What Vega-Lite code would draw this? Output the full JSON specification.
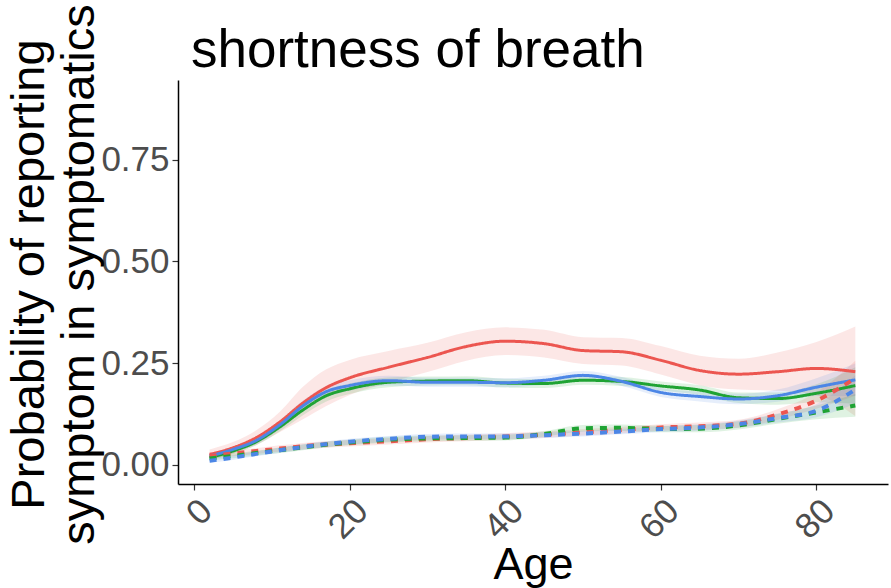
{
  "$schema": "https://vega.github.io/schema/vega-lite/v6.json",
  "autosize": {"type": "none"},
  "width": 710,
  "height": 404,
  "padding": {"left": 178, "top": 80, "right": 3, "bottom": 104},
  "background": "white",
  "config": {
    "view": {"stroke": null},
    "font": "Liberation Sans"
  },
  "title": {
    "text": "shortness of breath",
    "anchor": "start",
    "frame": "group",
    "fontSize": 53,
    "font": "Liberation Sans",
    "fontWeight": "normal",
    "color": "black",
    "baseline": "alphabetic",
    "offset": 0,
    "dy": 116,
    "dx": 13
  },
  "data": {
    "values": [
      {"age": 2, "group": "a", "type": "solid", "y": 0.026, "lo": 0.014, "hi": 0.038},
      {"age": 5, "group": "a", "type": "solid", "y": 0.042, "lo": 0.028, "hi": 0.056},
      {"age": 8, "group": "a", "type": "solid", "y": 0.067, "lo": 0.049, "hi": 0.085},
      {"age": 11, "group": "a", "type": "solid", "y": 0.105, "lo": 0.080, "hi": 0.130},
      {"age": 14, "group": "a", "type": "solid", "y": 0.152, "lo": 0.112, "hi": 0.192},
      {"age": 17, "group": "a", "type": "solid", "y": 0.190, "lo": 0.145, "hi": 0.235},
      {"age": 20, "group": "a", "type": "solid", "y": 0.214, "lo": 0.172, "hi": 0.258},
      {"age": 25, "group": "a", "type": "solid", "y": 0.240, "lo": 0.202, "hi": 0.280},
      {"age": 30, "group": "a", "type": "solid", "y": 0.264, "lo": 0.228, "hi": 0.300},
      {"age": 35, "group": "a", "type": "solid", "y": 0.291, "lo": 0.256, "hi": 0.326},
      {"age": 40, "group": "a", "type": "solid", "y": 0.304, "lo": 0.270, "hi": 0.338},
      {"age": 45, "group": "a", "type": "solid", "y": 0.298, "lo": 0.264, "hi": 0.332},
      {"age": 50, "group": "a", "type": "solid", "y": 0.281, "lo": 0.248, "hi": 0.314},
      {"age": 55, "group": "a", "type": "solid", "y": 0.278, "lo": 0.244, "hi": 0.312},
      {"age": 60, "group": "a", "type": "solid", "y": 0.257, "lo": 0.222, "hi": 0.292},
      {"age": 65, "group": "a", "type": "solid", "y": 0.232, "lo": 0.196, "hi": 0.268},
      {"age": 70, "group": "a", "type": "solid", "y": 0.223, "lo": 0.185, "hi": 0.261},
      {"age": 75, "group": "a", "type": "solid", "y": 0.229, "lo": 0.182, "hi": 0.276},
      {"age": 80, "group": "a", "type": "solid", "y": 0.237, "lo": 0.172, "hi": 0.302},
      {"age": 85, "group": "a", "type": "solid", "y": 0.229, "lo": 0.120, "hi": 0.340},

      {"age": 2, "group": "b", "type": "solid", "y": 0.018, "lo": 0.012, "hi": 0.024},
      {"age": 5, "group": "b", "type": "solid", "y": 0.034, "lo": 0.027, "hi": 0.041},
      {"age": 8, "group": "b", "type": "solid", "y": 0.057, "lo": 0.048, "hi": 0.066},
      {"age": 11, "group": "b", "type": "solid", "y": 0.093, "lo": 0.082, "hi": 0.104},
      {"age": 14, "group": "b", "type": "solid", "y": 0.135, "lo": 0.122, "hi": 0.148},
      {"age": 17, "group": "b", "type": "solid", "y": 0.170, "lo": 0.156, "hi": 0.184},
      {"age": 20, "group": "b", "type": "solid", "y": 0.187, "lo": 0.174, "hi": 0.200},
      {"age": 25, "group": "b", "type": "solid", "y": 0.203, "lo": 0.191, "hi": 0.215},
      {"age": 30, "group": "b", "type": "solid", "y": 0.206, "lo": 0.195, "hi": 0.217},
      {"age": 35, "group": "b", "type": "solid", "y": 0.207, "lo": 0.196, "hi": 0.218},
      {"age": 40, "group": "b", "type": "solid", "y": 0.201, "lo": 0.190, "hi": 0.212},
      {"age": 45, "group": "b", "type": "solid", "y": 0.200, "lo": 0.189, "hi": 0.211},
      {"age": 50, "group": "b", "type": "solid", "y": 0.208, "lo": 0.197, "hi": 0.219},
      {"age": 55, "group": "b", "type": "solid", "y": 0.205, "lo": 0.194, "hi": 0.216},
      {"age": 60, "group": "b", "type": "solid", "y": 0.194, "lo": 0.183, "hi": 0.205},
      {"age": 65, "group": "b", "type": "solid", "y": 0.184, "lo": 0.172, "hi": 0.196},
      {"age": 70, "group": "b", "type": "solid", "y": 0.165, "lo": 0.152, "hi": 0.178},
      {"age": 75, "group": "b", "type": "solid", "y": 0.163, "lo": 0.148, "hi": 0.178},
      {"age": 80, "group": "b", "type": "solid", "y": 0.176, "lo": 0.154, "hi": 0.198},
      {"age": 85, "group": "b", "type": "solid", "y": 0.195, "lo": 0.150, "hi": 0.240},

      {"age": 2, "group": "c", "type": "solid", "y": 0.022, "lo": 0.016, "hi": 0.028},
      {"age": 5, "group": "c", "type": "solid", "y": 0.038, "lo": 0.031, "hi": 0.045},
      {"age": 8, "group": "c", "type": "solid", "y": 0.060, "lo": 0.051, "hi": 0.069},
      {"age": 11, "group": "c", "type": "solid", "y": 0.098, "lo": 0.087, "hi": 0.109},
      {"age": 14, "group": "c", "type": "solid", "y": 0.145, "lo": 0.132, "hi": 0.158},
      {"age": 17, "group": "c", "type": "solid", "y": 0.180, "lo": 0.166, "hi": 0.194},
      {"age": 20, "group": "c", "type": "solid", "y": 0.195, "lo": 0.182, "hi": 0.208},
      {"age": 25, "group": "c", "type": "solid", "y": 0.207, "lo": 0.195, "hi": 0.219},
      {"age": 30, "group": "c", "type": "solid", "y": 0.203, "lo": 0.192, "hi": 0.214},
      {"age": 35, "group": "c", "type": "solid", "y": 0.203, "lo": 0.192, "hi": 0.214},
      {"age": 40, "group": "c", "type": "solid", "y": 0.202, "lo": 0.191, "hi": 0.213},
      {"age": 45, "group": "c", "type": "solid", "y": 0.208, "lo": 0.197, "hi": 0.219},
      {"age": 50, "group": "c", "type": "solid", "y": 0.220, "lo": 0.209, "hi": 0.231},
      {"age": 55, "group": "c", "type": "solid", "y": 0.205, "lo": 0.194, "hi": 0.216},
      {"age": 60, "group": "c", "type": "solid", "y": 0.178, "lo": 0.167, "hi": 0.189},
      {"age": 65, "group": "c", "type": "solid", "y": 0.168, "lo": 0.156, "hi": 0.180},
      {"age": 70, "group": "c", "type": "solid", "y": 0.162, "lo": 0.149, "hi": 0.175},
      {"age": 75, "group": "c", "type": "solid", "y": 0.170, "lo": 0.155, "hi": 0.185},
      {"age": 80, "group": "c", "type": "solid", "y": 0.191, "lo": 0.169, "hi": 0.213},
      {"age": 85, "group": "c", "type": "solid", "y": 0.209, "lo": 0.169, "hi": 0.249},

      {"age": 2, "group": "a", "type": "dashed", "y": 0.022, "lo": 0.016, "hi": 0.028},
      {"age": 5, "group": "a", "type": "dashed", "y": 0.028, "lo": 0.021, "hi": 0.035},
      {"age": 8, "group": "a", "type": "dashed", "y": 0.034, "lo": 0.027, "hi": 0.041},
      {"age": 11, "group": "a", "type": "dashed", "y": 0.040, "lo": 0.032, "hi": 0.048},
      {"age": 14, "group": "a", "type": "dashed", "y": 0.046, "lo": 0.038, "hi": 0.054},
      {"age": 17, "group": "a", "type": "dashed", "y": 0.050, "lo": 0.042, "hi": 0.058},
      {"age": 20, "group": "a", "type": "dashed", "y": 0.053, "lo": 0.045, "hi": 0.061},
      {"age": 25, "group": "a", "type": "dashed", "y": 0.058, "lo": 0.050, "hi": 0.066},
      {"age": 30, "group": "a", "type": "dashed", "y": 0.063, "lo": 0.055, "hi": 0.071},
      {"age": 35, "group": "a", "type": "dashed", "y": 0.066, "lo": 0.058, "hi": 0.074},
      {"age": 40, "group": "a", "type": "dashed", "y": 0.070, "lo": 0.062, "hi": 0.078},
      {"age": 45, "group": "a", "type": "dashed", "y": 0.074, "lo": 0.066, "hi": 0.082},
      {"age": 50, "group": "a", "type": "dashed", "y": 0.080, "lo": 0.072, "hi": 0.088},
      {"age": 55, "group": "a", "type": "dashed", "y": 0.086, "lo": 0.078, "hi": 0.094},
      {"age": 60, "group": "a", "type": "dashed", "y": 0.092, "lo": 0.084, "hi": 0.100},
      {"age": 65, "group": "a", "type": "dashed", "y": 0.095, "lo": 0.086, "hi": 0.104},
      {"age": 70, "group": "a", "type": "dashed", "y": 0.101, "lo": 0.091, "hi": 0.111},
      {"age": 75, "group": "a", "type": "dashed", "y": 0.124, "lo": 0.111, "hi": 0.137},
      {"age": 80, "group": "a", "type": "dashed", "y": 0.158, "lo": 0.138, "hi": 0.178},
      {"age": 85, "group": "a", "type": "dashed", "y": 0.213, "lo": 0.170, "hi": 0.256},

      {"age": 2, "group": "b", "type": "dashed", "y": 0.016, "lo": 0.011, "hi": 0.021},
      {"age": 5, "group": "b", "type": "dashed", "y": 0.022, "lo": 0.016, "hi": 0.028},
      {"age": 8, "group": "b", "type": "dashed", "y": 0.029, "lo": 0.023, "hi": 0.035},
      {"age": 11, "group": "b", "type": "dashed", "y": 0.036, "lo": 0.029, "hi": 0.043},
      {"age": 14, "group": "b", "type": "dashed", "y": 0.043, "lo": 0.036, "hi": 0.050},
      {"age": 17, "group": "b", "type": "dashed", "y": 0.050, "lo": 0.043, "hi": 0.057},
      {"age": 20, "group": "b", "type": "dashed", "y": 0.055, "lo": 0.048, "hi": 0.062},
      {"age": 25, "group": "b", "type": "dashed", "y": 0.062, "lo": 0.055, "hi": 0.069},
      {"age": 30, "group": "b", "type": "dashed", "y": 0.065, "lo": 0.058, "hi": 0.072},
      {"age": 35, "group": "b", "type": "dashed", "y": 0.066, "lo": 0.059, "hi": 0.073},
      {"age": 40, "group": "b", "type": "dashed", "y": 0.067, "lo": 0.060, "hi": 0.074},
      {"age": 45, "group": "b", "type": "dashed", "y": 0.076, "lo": 0.069, "hi": 0.083},
      {"age": 50, "group": "b", "type": "dashed", "y": 0.090, "lo": 0.082, "hi": 0.098},
      {"age": 55, "group": "b", "type": "dashed", "y": 0.091, "lo": 0.083, "hi": 0.099},
      {"age": 60, "group": "b", "type": "dashed", "y": 0.088, "lo": 0.080, "hi": 0.096},
      {"age": 65, "group": "b", "type": "dashed", "y": 0.089, "lo": 0.080, "hi": 0.098},
      {"age": 70, "group": "b", "type": "dashed", "y": 0.097, "lo": 0.087, "hi": 0.107},
      {"age": 75, "group": "b", "type": "dashed", "y": 0.113, "lo": 0.101, "hi": 0.125},
      {"age": 80, "group": "b", "type": "dashed", "y": 0.129, "lo": 0.112, "hi": 0.146},
      {"age": 85, "group": "b", "type": "dashed", "y": 0.146, "lo": 0.118, "hi": 0.174},

      {"age": 2, "group": "c", "type": "dashed", "y": 0.010, "lo": 0.005, "hi": 0.015},
      {"age": 5, "group": "c", "type": "dashed", "y": 0.018, "lo": 0.012, "hi": 0.024},
      {"age": 8, "group": "c", "type": "dashed", "y": 0.027, "lo": 0.021, "hi": 0.033},
      {"age": 11, "group": "c", "type": "dashed", "y": 0.036, "lo": 0.029, "hi": 0.043},
      {"age": 14, "group": "c", "type": "dashed", "y": 0.044, "lo": 0.037, "hi": 0.051},
      {"age": 17, "group": "c", "type": "dashed", "y": 0.051, "lo": 0.044, "hi": 0.058},
      {"age": 20, "group": "c", "type": "dashed", "y": 0.057, "lo": 0.050, "hi": 0.064},
      {"age": 25, "group": "c", "type": "dashed", "y": 0.064, "lo": 0.057, "hi": 0.071},
      {"age": 30, "group": "c", "type": "dashed", "y": 0.069, "lo": 0.062, "hi": 0.076},
      {"age": 35, "group": "c", "type": "dashed", "y": 0.070, "lo": 0.063, "hi": 0.077},
      {"age": 40, "group": "c", "type": "dashed", "y": 0.070, "lo": 0.063, "hi": 0.077},
      {"age": 45, "group": "c", "type": "dashed", "y": 0.073, "lo": 0.066, "hi": 0.080},
      {"age": 50, "group": "c", "type": "dashed", "y": 0.077, "lo": 0.070, "hi": 0.084},
      {"age": 55, "group": "c", "type": "dashed", "y": 0.082, "lo": 0.075, "hi": 0.089},
      {"age": 60, "group": "c", "type": "dashed", "y": 0.088, "lo": 0.081, "hi": 0.095},
      {"age": 65, "group": "c", "type": "dashed", "y": 0.092, "lo": 0.084, "hi": 0.100},
      {"age": 70, "group": "c", "type": "dashed", "y": 0.100, "lo": 0.091, "hi": 0.109},
      {"age": 75, "group": "c", "type": "dashed", "y": 0.115, "lo": 0.104, "hi": 0.126},
      {"age": 80, "group": "c", "type": "dashed", "y": 0.133, "lo": 0.117, "hi": 0.149},
      {"age": 85, "group": "c", "type": "dashed", "y": 0.185, "lo": 0.150, "hi": 0.220}
    ]
  },
  "encoding": {
    "x": {
      "field": "age",
      "type": "quantitative",
      "scale": {"domain": [-2.06, 89.2], "nice": false, "zero": false},
      "axis": {
        "title": "Age",
        "values": [0, 20, 40, 60, 80],
        "grid": false,
        "labelAngle": -45,
        "labelFontSize": 35,
        "labelColor": "#4D4D4D",
        "labelFont": "Liberation Sans",
        "labelPadding": 3,
        "tickSize": 6,
        "tickColor": "#333333",
        "tickWidth": 1.2,
        "domainColor": "black",
        "domainWidth": 1.5,
        "titleFontSize": 45,
        "titleFont": "Liberation Sans",
        "titleFontWeight": "normal",
        "titleColor": "black",
        "titleBaseline": "alphabetic",
        "titleY": 94
      }
    },
    "color": {
      "field": "group",
      "type": "nominal",
      "scale": {"domain": ["a", "b", "c"], "range": ["#EC5650", "#1FA333", "#4C86E6"]},
      "legend": null
    }
  },
  "layer": [
    {
      "mark": {"type": "area", "opacity": 0.14, "interpolate": "monotone"},
      "encoding": {
        "y": {"field": "lo", "type": "quantitative"},
        "y2": {"field": "hi"},
        "detail": {"field": "type"}
      }
    },
    {
      "mark": {"type": "line", "interpolate": "monotone"},
      "encoding": {
        "y": {
          "field": "y",
          "type": "quantitative",
          "scale": {"domain": [-0.047, 0.946], "nice": false, "zero": false},
          "axis": {
            "title": ["Probability of reporting", "symptom in symptomatics"],
            "values": [0, 0.25, 0.5, 0.75],
            "format": ".2f",
            "grid": false,
            "labelFontSize": 35,
            "labelColor": "#4D4D4D",
            "labelFont": "Liberation Sans",
            "labelPadding": 3,
            "tickSize": 6,
            "tickColor": "#333333",
            "tickWidth": 1.2,
            "domainColor": "black",
            "domainWidth": 1.5,
            "titleFontSize": 47,
            "titleFont": "Liberation Sans",
            "titleFontWeight": "normal",
            "titleColor": "black",
            "titleLineHeight": 50,
            "titleAngle": -90,
            "titleAlign": "center",
            "titleBaseline": "top",
            "titleX": -172,
            "titleY": 194
          }
        },
        "strokeDash": {
          "field": "type",
          "type": "nominal",
          "scale": {"domain": ["solid", "dashed"], "range": [[1, 0], [7, 7]]},
          "legend": null
        },
        "strokeWidth": {
          "field": "type",
          "type": "nominal",
          "scale": {"domain": ["solid", "dashed"], "range": [3, 4]},
          "legend": null
        },
        "detail": {"field": "type"}
      }
    }
  ]
}
